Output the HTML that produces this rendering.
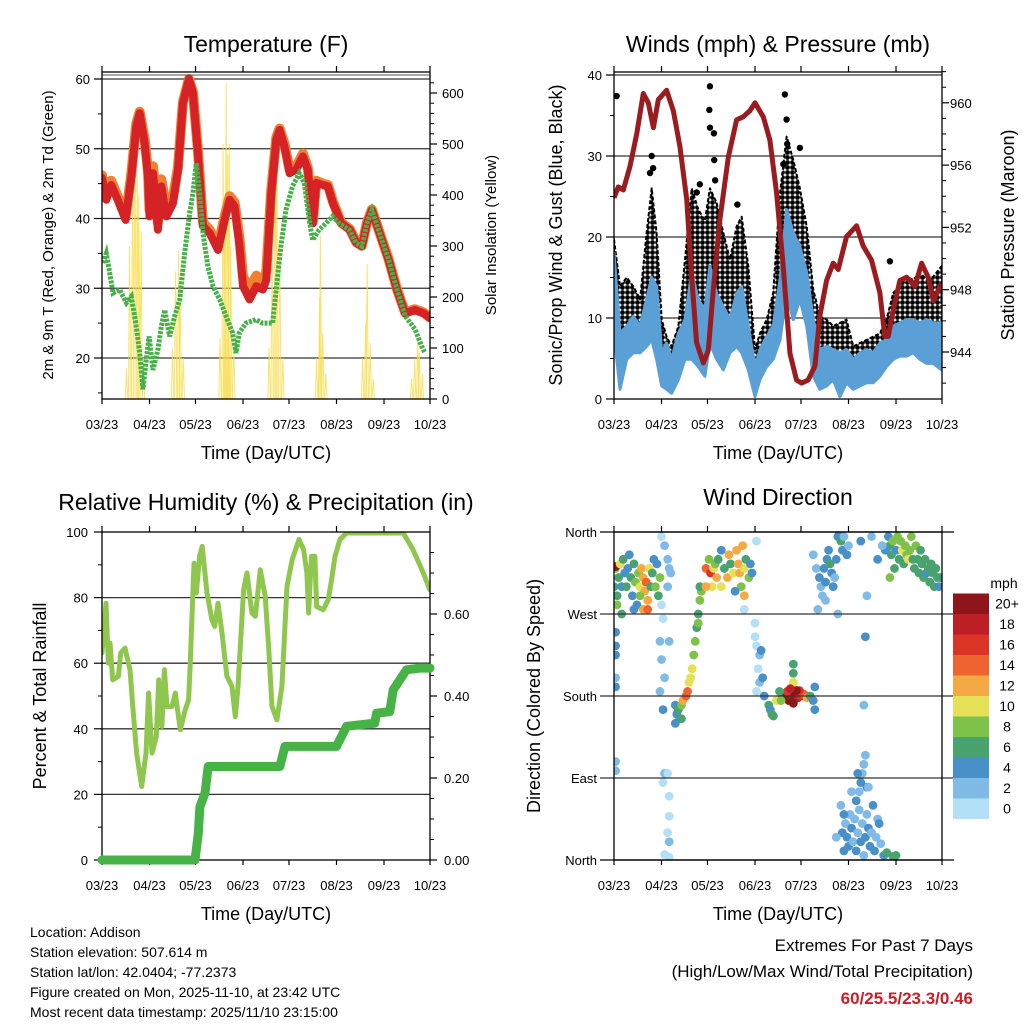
<!DOCTYPE html>
<html><head><meta charset="utf-8"><style>
html,body{margin:0;padding:0;background:#fff;}
svg{display:block;font-family:"Liberation Sans",Arial,sans-serif;}
</style></head><body>
<svg id="c" width="1024" height="1024" viewBox="0 0 1024 1024">
<defs><pattern id="gustdots" width="5" height="5" patternUnits="userSpaceOnUse"><rect width="5" height="5" fill="#fff"/><circle cx="2.5" cy="2.5" r="2.4" fill="#000"/></pattern></defs>
</svg>
<script>
// ---------- DATA ----------
const dayTicks = [0,31,61,92,122,153,184,214];
const dayTickLabels = ["03/23","04/23","05/23","06/23","07/23","08/23","09/23","10/23"];

const tempDays = [0,2.8,6,10.2,15.4,19.1,22.4,24.6,27.8,30,31,33.3,36.5,38.7,42,46.3,49.6,52.8,56.7,59.3,62.6,65.9,70.2,75.7,80,83.3,86.5,89.8,92,96.3,100.7,105,107.2,110.4,113.7,115.9,119.1,122.4,126.7,131.1,134.3,137.6,139.8,144.1,147.4,150.7,156.1,161.7,165.9,169.6,172.8,176.1,182.6,187,192.4,197.8,204.1,210,214];
const temp2m = [45.8,42.7,44.8,42.7,39.8,46,53.2,55.1,50.8,46,40.3,46.5,38.4,44.6,40.3,42.2,47,56.5,60,58,49.4,38.9,37.9,35.5,39.8,42.7,41.7,36,30.3,28.4,30.3,29.8,31.2,43.6,51.3,52.7,50.3,46.5,47,48.9,47,39.3,45.1,44.8,44.6,42.2,39.3,38.4,36.5,36,39.3,41.2,36.9,34.1,29.8,26.4,26.9,26.4,25.7];
const temp9m = [46.2,43.2,45.4,43.2,40.2,46.4,53.6,55.3,51.4,46.8,41.2,47.5,39.4,45.6,41.4,43,47.4,56.7,60,58.2,49.8,39.4,38.4,36,40.3,43.2,42.3,37,31.6,30,31.8,31,32.4,44,51.6,52.9,50.7,47,47.4,49.3,47.3,39.6,45.4,45,44.8,42.4,39.4,38.5,36.6,36.1,39.4,41.3,37,34.2,29.9,26.5,27,26.5,25.8];
const dewDays = [0.6,2.8,5,7.2,11.5,15.9,19.1,22.4,24.6,26.7,28.9,30.7,33.3,36.5,38.7,40.9,44.1,47.4,50.7,53.9,57.2,59.3,61.5,63.7,65.9,69.1,72.4,76.7,80.9,85.2,87.4,89.6,93.9,100.4,104.8,111.3,114.6,116.7,120,124.3,128.7,132,135.2,137.4,141.7,146.1,150.4,154.8,161.3,165.7,169.6,172.8,176.1,182.6,187,192.4,197.8,204.3,208.5,210.7];
const dew2m = [33.6,35,32.2,29.3,29.8,27.9,28.8,24.5,20.7,15.5,19.8,23.1,18.3,21.2,24.5,26.9,23.1,26,28.4,35,40.8,43.6,47.9,43.6,37.9,33.1,30.3,28.4,26,23.6,20.7,23.6,25,25.5,25,25,31.7,36,41.2,44.6,46.5,45.1,39.8,36.9,38.4,39.3,40.3,39.3,38.4,36.5,36,39.3,41.2,36.9,34.1,29.8,26,24.1,21.7,20.7];
const solarDays = [16,18,20,21.5,23,24,25.5,27,46,48,50,51,53,77,79,80,81,82,83,84,86,109,111,113,114,116,118,140,142,142.5,144,146,170,172,173,175,177,202,204,206,207,209];
const solarVals = [60,300,480,540,440,400,330,80,100,250,290,230,80,120,500,380,620,480,500,300,100,100,300,500,520,300,80,80,200,320,130,50,80,150,265,110,40,40,80,120,90,50];

const windDays = [0,3.9,8.3,12.6,17,21.3,24.6,27.8,31.1,34.3,37.6,42,46.3,50.7,55,59.3,62.6,67,71.3,75.7,80,83.3,87.6,92,95.2,99.6,103.9,108.3,112.6,117,121.3,125.7,130,134.3,138.7,143,147.4,151.7,156.1,160.4,164.8,169.1,173.5,177.8,182.2,186.5,190.9,195.2,199.6,203.9,208.3,213.7];
const windLow = [8.1,1.2,4.9,5.7,5.7,6.5,7.3,4.9,1.6,1.2,0.7,2.4,4.9,4.9,4,2.8,6.9,4.9,3.6,5.7,6.5,5.7,3.6,0.3,2.4,4,4.9,7.3,13.1,9.8,12.3,9,2.8,1.2,1.6,2.4,0.3,2,1.2,1.6,2,2,2.8,4,4.9,5.3,5.3,5.7,4.9,4.4,4.4,3.6];
const windHigh = [18,8.1,9,10.2,9,12.3,15,13.9,5.7,6.9,4.9,8.1,9.8,15.6,12.3,11,16.4,13,11.4,9.8,13,13.9,9,4,6.1,7.7,9,14.7,23.4,20.5,18.8,15.6,9.8,6.1,6.5,6.1,5.7,6.1,4.9,5.7,6.1,5.7,6.9,7.3,9,9.4,9.8,9.8,9.4,9.8,9.4,9.4];
const gustHigh = [19.7,13.9,15,13.9,12.3,20.5,26,20.5,9.8,7.7,6.5,9,17.2,26,23.4,22,26,24.2,20.5,17.2,21.3,22.5,16.4,6.1,8.1,9.8,13.1,25.4,32.4,29.5,26,21.3,13.5,10.2,9.8,9,9.4,9.8,6.5,6.9,7.3,7.7,8.1,9.8,13.1,13.9,15.1,14.7,15.6,14.7,15.1,16.4];
const gustOutDays = [1.7,62.6,62.2,62.6,65.2,65.4,111.5,112.6,121.3,180,24.6,23.5,113,110.5,25.5,54,56,66,80.5];
const gustOutVals = [37.4,38.6,35.7,33.5,32.8,29.5,37.6,34.5,31,17,30,27.9,31.5,29,28.5,25.5,26.5,27,24];
const presDays = [0,2.8,6.1,10.4,14.8,19.1,22.4,25.7,28.9,34.3,38.7,43,47.4,50.7,53.9,58.3,61.5,64.8,69.1,74.6,80,84.3,88.7,92,97.4,101.7,106.1,110.4,114.8,119.1,122.4,126.7,131.1,134.3,138.7,143,146.3,151.7,158.3,162.6,168,173.5,176.7,178.9,182.2,186.5,190.9,196.3,200.7,205,208.3,213.7];
const presVals = [953.9,954.6,954.4,955.9,958,960.6,960,958.4,960.2,960.8,959.5,957.2,953.8,948.8,944.6,943.3,944.1,948,952.5,956.5,958.9,959.1,959.5,960,959.1,957.6,954.2,949.5,943.9,942.2,942,942.2,943.1,946.3,948.6,949.7,949.3,951.4,952.1,950.8,949.9,947.8,945,945,946.7,948.6,948.8,948.2,949.7,948.8,947.3,948.4];

const rhDays = [0,2.6,4.1,5.2,7,10.7,12.2,15,18.3,20.4,22.6,25.9,28.7,30.4,32.6,35.4,37,39.1,40.7,42.4,45.7,47.8,51.1,54.3,56.5,57.4,60,61.5,63.7,65.4,68.5,71.7,73.5,75.7,78.3,81.5,84.8,87,88.7,92.4,94.6,97.8,100,103.3,106.5,108.7,110.9,114.1,117.4,120.7,124.1,128.5,131.5,133.7,134.8,136.7,138.9,140,144.3,147.6,149.8,152,155.2,159.6,196.5,203,209.6,213.9];
const rhVals = [63.1,78.3,60,66.1,54.9,56,63.1,64.6,58,44.8,32.6,22.4,32.6,50.9,32.6,37.6,54.9,40.7,58,46.8,46.8,50.9,39.7,45.8,48.8,58,90.5,81.4,92.6,95.6,81.4,73.2,71.2,78.3,69.2,56,52.9,43.7,52.9,82.4,87.5,75.3,74.3,88.5,80.4,65.1,46.8,42.7,52.9,83.4,91.6,97.7,94.6,87.5,75.3,92.6,92.6,77.3,76.3,79.3,85.5,92.6,97.7,99.7,99.7,94.6,87.5,82.4];
const rainDays = [0,60.7,62.8,63.9,67.2,69.3,116.1,119.3,153,159.6,178,179.1,187.8,190,198.7,207.4,214];
const rainVals = [0,0,0.065,0.13,0.163,0.228,0.228,0.277,0.277,0.326,0.334,0.358,0.362,0.415,0.464,0.468,0.468];

const dirDay = [0,1,1,2,3,4,5,6,7,8,9,10,11,12,13,14,15,16,17,18,19,20,21,22,23,24,25,26,27,28,29,30,2,5,19,22,13,17,1,1,1,1,1,1,1,
31,33,35,36,37,35,31,32,36,30,31,33,30,32,33,35,32,36,36,35,36,33,36,
40,41,42,43,44,45,47,48,49,50,51,52,53,54,55,55,56,57,56,40,44,
60,62,63,64,65,66,67,68,70,72,74,75,76,78,80,81,82,83,85,86,88,89,90,70,84,60,79,85,
92,93,95,94,96,95,97,93,98,101,102,103,104,106,92,93,85,
110,112,114,116,118,120,122,124,126,113,117,121,117,117,117,128,130,131,131,108,109,119,115,
130,132,134,135,136,137,138,139,140,141,142,143,144,145,146,147,148,149,150,152,153,133,146,138,164,165,161,168,
148,149,150,151,152,153,154,155,156,157,158,159,160,161,162,163,164,165,166,167,168,169,170,171,172,160,161,162,163,164,159,165,173,174,176,178,182,184,158,155,150,145,163,166,
179,180,181,182,183,184,185,186,187,188,189,190,191,192,193,194,195,196,197,198,199,200,201,202,203,204,205,206,207,208,209,210,211,212,213,177,172,175,180];
const dirDeg = [300,320,322,290,310,325,300,330,315,300,320,335,310,290,325,305,280,315,300,320,310,295,305,285,320,300,315,330,300,325,290,310,280,270,275,275,275,290,250,235,225,200,190,108,98,
355,345,330,320,315,300,280,265,240,240,220,200,185,165,95,95,85,70,48,30,20,6,3,
170,160,165,155,170,175,180,185,195,200,210,225,240,255,260,270,285,295,300,150,155,
320,330,315,300,320,325,310,330,300,320,310,335,325,315,340,325,315,300,320,330,310,325,315,340,345,300,295,290,
245,235,225,210,230,195,200,185,180,170,165,160,158,175,260,350,275,
180,180,175,182,180,178,180,182,178,185,172,186,215,205,195,180,175,165,190,185,175,186,188,
335,320,310,300,290,320,305,330,340,325,315,300,310,330,355,360,350,340,355,335,345,275,270,285,245,290,350,355,
60,30,10,40,25,15,50,35,20,45,10,30,55,20,40,5,25,50,35,15,30,60,10,25,45,75,85,95,105,115,95,80,40,18,5,8,4,5,65,75,50,25,170,80,
355,345,335,350,320,340,355,330,350,340,325,345,335,330,340,355,330,320,345,330,315,340,325,310,330,315,320,305,325,315,300,320,310,300,310,340,330,345,310];
const dirSpd = [6,8,20,7,6,10,5,6,5,6,4,5,7,5,6,8,4,8,10,12,12,12,14,12,11,7,6,4,8,5,6,9,8,6,12,14,5,8,4,4,4,3,4,2,2,
1,2,2,3,2,3,1,1,2,3,2,3,3,4,2,1,1,1,1,1,2,1,1,
4,4,6,4,8,12,14,14,10,10,10,8,8,6,8,6,8,8,6,4,6,
14,8,16,10,10,8,12,6,10,6,12,12,6,10,12,12,12,8,10,6,8,4,5,4,13,12,5,12,
1,1,2,1,4,2,4,1,4,6,4,6,6,10,1,1,1,
18,20,20,18,20,18,16,14,12,16,20,16,6,6,10,6,4,4,4,6,8,20,18,
2,2,4,3,2,4,4,4,4,6,4,4,3,4,4,4,6,4,2,4,2,2,2,2,4,2,4,2,
2,4,4,2,4,4,2,4,2,2,4,2,2,4,2,2,4,2,4,4,2,4,4,2,2,2,4,2,2,2,4,4,4,2,4,6,6,6,4,2,4,2,2,2,
4,6,6,8,6,4,8,6,8,10,6,8,8,10,8,8,6,6,8,6,6,6,6,6,6,4,6,6,6,6,6,6,6,4,6,4,4,2,8];
const speedColors = ["#b3e0f7","#7fbbe6","#4a90c8","#48a36e","#7ec24a","#e6e056","#f5a944","#ef6330","#dc3327","#be1e26","#8e1519"];
const speedLabels = ["0","2","4","6","8","10","12","14","16","18","20+"];

// ---------- DRAW ----------
const NS = "http://www.w3.org/2000/svg";
const svg = document.getElementById("c");
function mk(tag, a, parent){ const e=document.createElementNS(NS,tag); for(const k in a) e.setAttribute(k,a[k]); (parent||svg).appendChild(e); return e; }
function txt(x,y,s,size,anchor,parent){ const t=mk("text",{x:x,y:y,"font-size":size,"text-anchor":anchor||"middle",fill:"#000"},parent); t.textContent=s; return t; }
function vtxt(x,y,s,size,parent){ const t=mk("text",{x:0,y:0,"font-size":size,"text-anchor":"middle",fill:"#000",transform:"translate("+x+","+y+") rotate(-90)"},parent); t.textContent=s; return t; }
function line(x1,y1,x2,y2,w,parent,col){ return mk("line",{x1:x1,y1:y1,x2:x2,y2:y2,stroke:col||"#000","stroke-width":w||1},parent); }
function pts(xs,ys,fx,fy){ return xs.map((d,i)=>fx(d).toFixed(1)+","+fy(ys[i]).toFixed(1)).join(" "); }

function panel(name,L,T,R,B){
  const g=mk("g",{});
  
  
  const cp=mk("clipPath",{id:name+"-clip"},g); mk("rect",{x:L,y:T,width:R-L,height:B-T},cp);
  const plot=mk("g",{"clip-path":"url(#"+name+"-clip)"},g);
  
  
  return {g:g,plot:plot,fx:d=>L+(d/214)*(R-L)};
}
function frame(P,L,T,R,B){
  const r=mk("rect",{x:L,y:T,width:R-L,height:B-T,fill:"none",stroke:"#000","stroke-width":1.3},P.g);
  
  
  dayTicks.forEach((d,i)=>{
    const x=P.fx(d);
    line(x,B,x,B+5,1.2,P.g); line(x,T,x,T-6,1.2,P.g);
    const t=txt(x,B+30,dayTickLabels[i],13,"middle",P.g);
    
    
  });
  const xt2=txt((L+R)/2,B+60,"Time (Day/UTC)",18,"middle",P.g);
  
  
}

// ===== Panel 1: Temperature =====
(function(){
  const L=102,T=72,R=430,B=399;
  const P=panel("temperature-panel",L,T,R,B);
  const fy=v=>79+(60-v)*6.975, fs=v=>399-v*0.51;
  [20,30,40,50,60].forEach(v=>{ line(L,fy(v),R,fy(v),1.3,P.plot,"#333"); });
  solarDays.forEach((d,i)=>{
    const p=mk("polyline",{points:[P.fx(d-0.8)+","+fs(0),P.fx(d)+","+fs(solarVals[i]),P.fx(d+0.8)+","+fs(0)].join(" "),fill:"none",stroke:"#f7dc4a","stroke-width":1,opacity:0.8},P.plot);
    
    
  });
  const o=mk("polyline",{points:pts(tempDays,temp9m,P.fx,fy),fill:"none",stroke:"#f08030","stroke-width":10,"stroke-linejoin":"round","stroke-linecap":"round"},P.plot);
  
  
  const r=mk("polyline",{points:pts(tempDays,temp2m,P.fx,fy),fill:"none",stroke:"#d42226","stroke-width":8,"stroke-linejoin":"round","stroke-linecap":"round"},P.plot);
  
  
  const gr=mk("polyline",{points:pts(dewDays,dew2m,P.fx,fy),fill:"none",stroke:"#48b04a","stroke-width":5,"stroke-dasharray":"3 1.2"},P.plot);
  
  
  line(L,75,R,75,1,P.g,"#555");
  frame(P,L,T,R,B);
  [20,30,40,50,60].forEach(v=>{ line(L-8,fy(v),L,fy(v),1.2,P.g); const t=txt(L-12,fy(v)+5,String(v),13,"end",P.g);   });
  [15,25,35,45,55].forEach(v=>line(L-4,fy(v),L,fy(v),1,P.g));
  [0,100,200,300,400,500,600].forEach(v=>{ line(R,fs(v),R+7,fs(v),1.2,P.g); const t=txt(R+12,fs(v)+5,String(v),13,"start",P.g);   });
  for(let v=20;v<640;v+=20) if(v%100) line(R,fs(v),R+4,fs(v),1,P.g);
  const tt=txt(266,52,"Temperature (F)",23,"middle",P.g);  
  const yl=vtxt(53,235,"2m & 9m T (Red, Orange) & 2m Td (Green)",15,P.g);  
  const yr=vtxt(496,235,"Solar Insolation (Yellow)",15,P.g);  
})();

// ===== Panel 2: Winds & Pressure =====
(function(){
  const L=614,T=72,R=942,B=399;
  const P=panel("winds-panel",L,T,R,B);
  const fy=v=>399-v*8.1, fp=v=>352-(v-944)*15.575;
  [10,20,30].forEach(v=>line(L,fy(v),R,fy(v),1.3,P.plot,"#333"));
  line(L,75,R,75,1.3,P.plot,"#333");
  const upG=windDays.map((d,i)=>P.fx(d).toFixed(1)+","+fy(gustHigh[i]).toFixed(1));
  const upW=windDays.map((d,i)=>P.fx(d).toFixed(1)+","+fy(windHigh[i]).toFixed(1));
  const loW=windDays.map((d,i)=>P.fx(d).toFixed(1)+","+fy(windLow[i]).toFixed(1));
  const ga=mk("polygon",{points:upG.concat(loW.slice().reverse()).join(" "),fill:"url(#gustdots)",stroke:"#000","stroke-width":2,"stroke-dasharray":"4 2","stroke-linejoin":"round"},P.plot);
  
  
  const wa=mk("polygon",{points:upW.concat(loW.slice().reverse()).join(" "),fill:"#5a9fd6",stroke:"#5a9fd6","stroke-width":3,"stroke-linejoin":"round"},P.plot);
  
  
  gustOutDays.forEach((d,i)=>{ const c=mk("circle",{cx:P.fx(d),cy:fy(gustOutVals[i]),r:3.2,fill:"#000"},P.plot);   });
  const pl=mk("polyline",{points:pts(presDays,presVals,P.fx,fp),fill:"none",stroke:"#9b1c1f","stroke-width":5,"stroke-linejoin":"round"},P.plot);
  
  
  frame(P,L,T,R,B);
  [0,10,20,30,40].forEach(v=>{ line(L-8,fy(v),L,fy(v),1.2,P.g); const t=txt(L-12,fy(v)+5,String(v),13,"end",P.g);   });
  [5,15,25,35].forEach(v=>line(L-4,fy(v),L,fy(v),1,P.g));
  [944,948,952,956,960].forEach(v=>{ line(R,fp(v),R+7,fp(v),1.2,P.g); const t=txt(R+8,fp(v)+5,String(v),13,"start",P.g);   });
  for(let v=942;v<=962;v++) if(v%4) line(R,fp(v),R+4,fp(v),1,P.g);
  const tt=txt(778,52,"Winds (mph) & Pressure (mb)",23,"middle",P.g);  
  const yl=vtxt(562,235,"Sonic/Prop Wind & Gust (Blue, Black)",18,P.g);  
  const yr=vtxt(1014,235,"Station Pressure (Maroon)",18,P.g);  
})();

// ===== Panel 3: RH & Precip =====
(function(){
  const L=102,T=532,R=430,B=860;
  const P=panel("humidity-panel",L,T,R,B);
  const fy=v=>860-v*3.28, fr=v=>860-v*410;
  [20,40,60,80].forEach(v=>line(L,fy(v),R,fy(v),1.3,P.plot,"#333"));
  const rh=mk("polyline",{points:pts(rhDays,rhVals,P.fx,fy),fill:"none",stroke:"#8fc74e","stroke-width":5,"stroke-linejoin":"round","stroke-linecap":"round"},P.plot);
  
  
  const rn=mk("polyline",{points:pts(rainDays,rainVals,P.fx,fr),fill:"none",stroke:"#47b347","stroke-width":9,"stroke-linejoin":"round","stroke-linecap":"round"},svg);
  
  
  frame(P,L,T,R,B);
  [0,20,40,60,80,100].forEach(v=>{ line(L-8,fy(v),L,fy(v),1.2,P.g); const t=txt(L-14,fy(v)+5,String(v),13,"end",P.g);   });
  [10,30,50,70,90].forEach(v=>line(L-4,fy(v),L,fy(v),1,P.g));
  [0,0.2,0.4,0.6].forEach(v=>{ line(R,fr(v),R+7,fr(v),1.2,P.g); const t=txt(R+14,fr(v)+5,v.toFixed(2),13,"start",P.g);   });
  [0.05,0.1,0.15,0.25,0.3,0.35,0.45,0.5,0.55,0.65,0.7,0.75].forEach(v=>line(R,fr(v),R+4,fr(v),1,P.g));
  const tt=txt(266,510,"Relative Humidity (%) & Precipitation (in)",23,"middle",P.g);  
  const yl=vtxt(46,696,"Percent & Total Rainfall",18,P.g);  
})();

// ===== Panel 4: Wind direction =====
(function(){
  const L=614,T=532,R=942,B=860;
  const P=panel("wind-direction-panel",L,T,R,B);
  const fy=v=>860-v*(328/360);
  [90,180,270].forEach(v=>line(L-14,fy(v),R+12,fy(v),1.3,P.g,"#333"));
  dirDay.forEach((d,i)=>{
    const idx=Math.min(10,Math.floor(dirSpd[i]/2));
    const c=mk("circle",{cx:P.fx(d),cy:fy(dirDeg[i]),r:4.4,fill:speedColors[idx]},P.plot);
    
    
  });
  frame(P,L,T,R,B);
  line(L-14,T,R+12,T,1.3,P.g); line(L-14,B,R+12,B,1.3,P.g);
  const dl=["North","East","South","West","North"];
  [0,90,180,270,360].forEach((v,i)=>{ const t=txt(L-17,fy(v)+5,dl[i],13,"end",P.g);   });
  const tt=txt(778,505,"Wind Direction",23,"middle",P.g);  
  const yl=vtxt(540,696,"Direction (Colored By Speed)",18,P.g);  
  const lg=mk("g",{},P.g);
  
  
  const lt=txt(1004,588,"mph",14,"middle",lg);  
  speedColors.forEach((c,i)=>{
    const y=798.5-i*20.5;
    const r=mk("rect",{x:953,y:y,width:36,height:20.5,fill:c},lg);
    
    
    const t=txt(1007,y+15,speedLabels[i],14,"middle",lg);
    
    
  });
})();

// ===== Footer =====
(function(){
  const g=mk("g",{});
  
  
  ["Location: Addison","Station elevation: 507.614 m","Station lat/lon: 42.0404; -77.2373","Figure created on Mon, 2025-11-10, at 23:42 UTC","Most recent data timestamp: 2025/11/10 23:15:00"].forEach((s,i)=>{
    const t=txt(30,937+i*20,s,14,"start",g);  
  });
  const e=mk("g",{});
  
  
  const a=txt(973,951,"Extremes For Past 7 Days",17,"end",e);  
  const b=txt(973,977,"(High/Low/Max Wind/Total Precipitation)",17,"end",e);  
  const c=txt(973,1004,"60/25.5/23.3/0.46",17,"end",e); c.setAttribute('fill','#c8202a'); c.setAttribute('font-weight','bold');  
})();
</script>
</body></html>
